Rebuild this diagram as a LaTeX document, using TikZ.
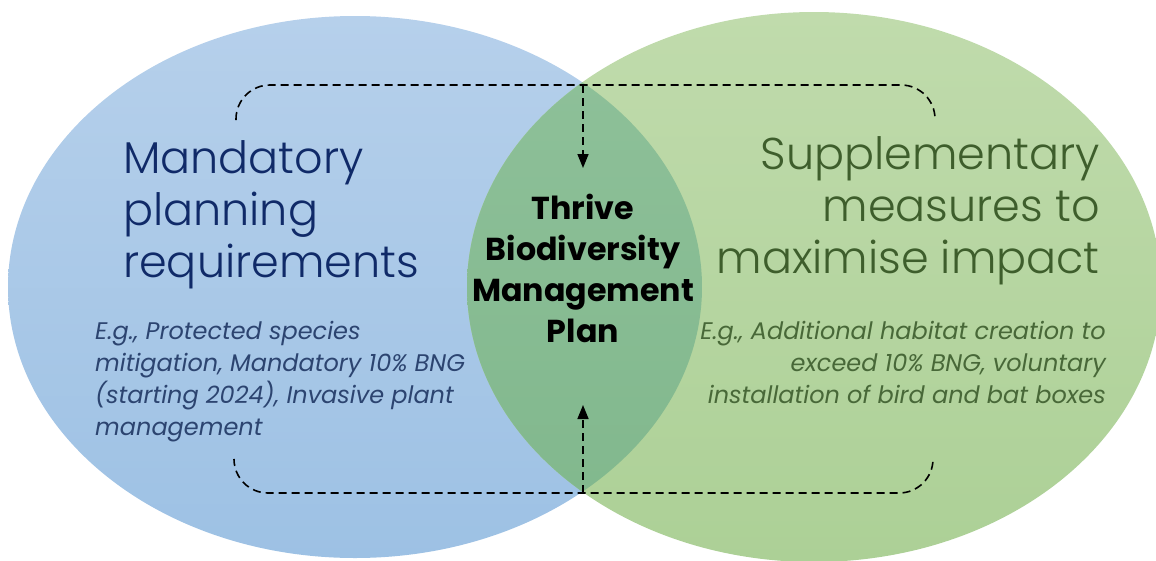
\documentclass[tikz,border=0pt]{standalone}
\usepackage{fontspec}
\setmainfont{Poppins}
\newfontfamily\headfont{Poppins Light}
\usetikzlibrary{arrows.meta}
\definecolor{blueTop}{RGB}{182,208,235}
\definecolor{blueBot}{RGB}{157,193,228}
\definecolor{greenTop}{RGB}{192,219,172}
\definecolor{greenBot}{RGB}{172,208,150}
\definecolor{lensTop}{RGB}{143,193,154}
\definecolor{lensBot}{RGB}{128,183,140}
\definecolor{navyText}{RGB}{16,42,104}
\definecolor{navyDesc}{RGB}{44,68,112}
\definecolor{greenHead}{RGB}{62,94,44}
\definecolor{greenDesc}{RGB}{72,104,56}
\tikzset{
  heading/.style={inner sep=0pt, font=\headfont\fontsize{44.5}{52}\selectfont},
  desc/.style={inner sep=0pt, font=\fontsize{24}{32}\selectfont\itshape},
  center/.style={inner sep=0pt, font=\fontsize{31.7}{41}\selectfont\bfseries, text=black, align=center},
  dashline/.style={draw=black, line width=1.6pt, dash pattern=on 8pt off 5pt},
  arrowtip/.style={-{Triangle[length=14pt,width=11pt]}}
}
\begin{document}
\begin{tikzpicture}[x=1pt,y=-1pt]
\useasboundingbox (0,0) rectangle (1156,560);
\clip (0,0) rectangle (1156,560);
% ellipses
\shade[top color=blueTop, bottom color=blueBot] (355,287) ellipse [x radius=347, y radius=271];
\shade[top color=greenTop, bottom color=greenBot] (814,287) ellipse [x radius=347, y radius=275];
\begin{scope}
  \clip (355,287) ellipse [x radius=347, y radius=271];
  \shade[top color=lensTop, bottom color=lensBot] (814,287) ellipse [x radius=347, y radius=275];
\end{scope}
% texts
\node[heading, text=navyText, align=left, anchor=north west] (mand) at (123,140) {Mandatory\\planning\\requirements};
\node[heading, text=greenHead, align=right, anchor=north east] (supp) at (1100,136) {Supplementary\\measures to\\maximise impact};
\node[desc, text=navyDesc, align=left, anchor=north west] (mdesc) at (95,321) {E.g., Protected species\\mitigation, Mandatory 10\% BNG\\(starting 2024), Invasive plant\\management};
\node[desc, text=greenDesc, align=right, anchor=north east] (sdesc) at (1106,321) {E.g., Additional habitat creation to\\exceed 10\% BNG, voluntary\\installation of bird and bat boxes};
\node[center] (plan) at (583,268) {Thrive\\Biodiversity\\Management\\Plan};
% connectors
\coordinate (tl) at (236,120);
\coordinate (tr) at (935,120);
\coordinate (tj) at (583,85);
\coordinate (ttip) at (583,168);
\coordinate (bl) at (234,460);
\coordinate (br) at (933,460);
\coordinate (bj) at (583,493);
\coordinate (btip) at (583,405);
\draw[dashline, rounded corners=34pt] (tl) -- (tl |- tj) -- (tr |- tj) -- (tr);
\draw[dashline, arrowtip] (tj) -- (ttip);
\draw[dashline, rounded corners=34pt] (bl) -- (bl |- bj) -- (br |- bj) -- (br);
\draw[dashline, arrowtip] (bj) -- (btip);
\end{tikzpicture}
\end{document}
